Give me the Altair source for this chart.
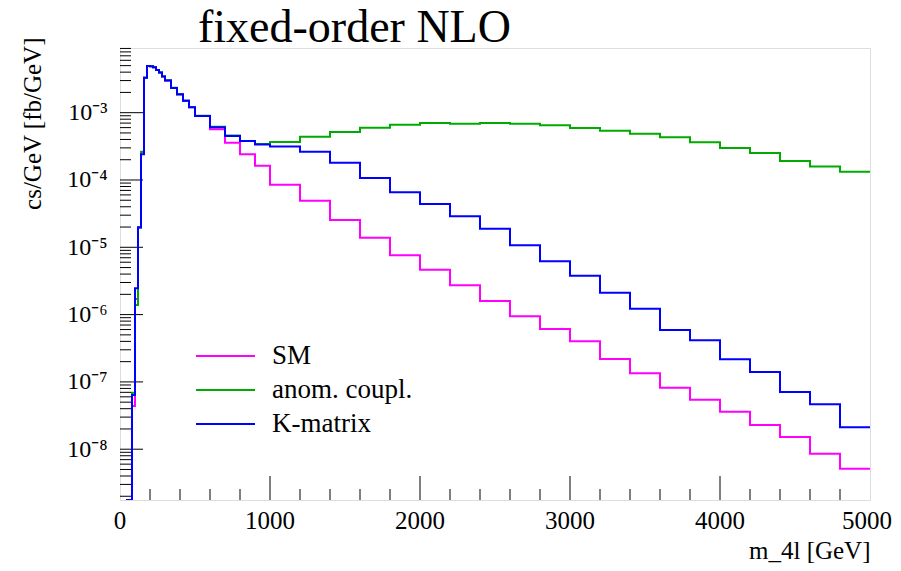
import altair as alt
import pandas as pd

# bin edges of the m_4l histograms [GeV]
edges = [40, 60, 80, 100, 120, 140, 160, 180, 200, 220, 240, 260, 280, 300,
         340, 380, 420, 460, 500, 600, 700, 800, 900, 1000,
         1200, 1400, 1600, 1800, 2000, 2200, 2400, 2600, 2800, 3000,
         3200, 3400, 3600, 3800, 4000, 4200, 4400, 4600, 4800, 5000]

ZERO = 1e-12  # empty bins (drawn at the floor)

sm = [ZERO, ZERO, 4.38e-8, 1.71e-6, 2.0e-5, 2.63e-4, 3.31e-3, 4.94e-3, 4.90e-3,
      4.73e-3, 4.31e-3, 3.96e-3, 3.45e-3, 3.01e-3, 2.33e-3, 1.88e-3, 1.51e-3,
      1.20e-3, 8.93e-4, 5.67e-4, 3.58e-4, 2.41e-4, 1.63e-4, 8.51e-5, 4.93e-5,
      2.54e-5, 1.39e-5, 7.61e-6, 4.65e-6, 2.73e-6, 1.59e-6, 9.43e-7, 6.11e-7,
      4.01e-7, 2.19e-7, 1.34e-7, 8.20e-8, 5.44e-8, 3.61e-8, 2.29e-8, 1.52e-8,
      8.57e-9, 5.13e-9]

anom = [ZERO, ZERO, 6.9e-8, 1.39e-6, 1.96e-5, 2.61e-4, 3.31e-3, 4.94e-3, 4.90e-3,
        4.73e-3, 4.31e-3, 3.96e-3, 3.48e-3, 3.03e-3, 2.35e-3, 1.86e-3, 1.51e-3,
        1.21e-3, 9.0e-4, 6.19e-4, 4.58e-4, 3.80e-4, 3.43e-4, 3.67e-4, 4.40e-4,
        5.17e-4, 5.98e-4, 6.64e-4, 7.03e-4, 6.87e-4, 7.03e-4, 6.87e-4, 6.50e-4,
        5.93e-4, 5.41e-4, 4.88e-4, 4.31e-4, 3.63e-4, 2.99e-4, 2.52e-4, 1.91e-4,
        1.58e-4, 1.32e-4]

kmat = [ZERO, ZERO, 6.4e-8, 2.46e-6, 1.96e-5, 2.41e-4, 3.31e-3, 4.94e-3, 4.90e-3,
        4.73e-3, 4.31e-3, 3.96e-3, 3.45e-3, 3.01e-3, 2.33e-3, 1.88e-3, 1.51e-3,
        1.20e-3, 8.93e-4, 6.07e-4, 4.51e-4, 3.80e-4, 3.37e-4, 3.15e-4, 2.63e-4,
        1.81e-4, 1.07e-4, 6.57e-5, 4.40e-5, 2.89e-5, 1.89e-5, 1.07e-5, 6.22e-6,
        3.78e-6, 2.12e-6, 1.22e-6, 5.90e-7, 4.15e-7, 2.17e-7, 1.40e-7, 7.08e-8,
        4.65e-8, 2.12e-8]

series_names = ["SM", "anom. coupl.", "K-matrix"]
series_colors = ["#ff00ff", "#00aa00", "#0000ff"]

title_text = ["fixed-order NLO"]
x_labels = [0, 1000, 2000, 3000, 4000, 5000]
x_minor = list(range(200, 5000, 200))
y_major = [1e-8, 1e-7, 1e-6, 1e-5, 1e-4, 1e-3]
Y_MIN, Y_MAX = 1.76e-9, 9.14e-3
y_minor = [k * d for d in [1e-9] + y_major for k in range(2, 10) if Y_MIN <= k * d <= Y_MAX]

rows = []
for name, vals in zip(series_names, [sm, anom, kmat]):
    for x, y in zip(edges, vals + [vals[-1]]):
        rows.append({"m4l": x, "cs": y, "series": name})
df = pd.DataFrame(rows)

W, H = 750, 452
FONT = "Liberation Serif"

xscale = alt.Scale(domain=[0, 5000], nice=False, zero=False)
yscale = alt.Scale(type="log", domain=[Y_MIN, Y_MAX], nice=False, clamp=True)

sup = "['\u2070','\u00b9','\u00b2','\u00b3','\u2074','\u2075','\u2076','\u2077','\u2078','\u2079']"
ylabel_expr = "'10\u207b' + " + sup + "[round(-log(datum.value)/LN10)]"

color = alt.Color(
    "series:N",
    scale=alt.Scale(domain=series_names, range=series_colors),
    legend=alt.Legend(
        title=None, orient="none", legendX=75, legendY=291,
        symbolType="stroke", symbolSize=3481, symbolStrokeWidth=2,
        labelFont=FONT, labelFontSize=27, labelColor="black",
        labelOffset=16, clipHeight=34, rowPadding=0, padding=0,
    ),
)

xenc = alt.X(
    "m4l:Q", scale=xscale,
    axis=alt.Axis(
        values=x_labels, ticks=False, domain=False, grid=False, labels=False,
        title="m_4l [GeV]", titleFont=FONT, titleFontSize=25, titleFontWeight="normal",
        titleColor="black", titleAnchor="end", titleAlign="right", titleX=W,
        titleY=58, titleBaseline="alphabetic",
    ),
)
yenc = alt.Y(
    "cs:Q", scale=yscale,
    axis=alt.Axis(
        values=y_major, ticks=False, domain=False, grid=False,
        labelExpr=ylabel_expr, labelFont=FONT, labelFontSize=24, labelColor="black",
        labelPadding=13,
        title="cs/GeV [fb/GeV]", titleFont=FONT, titleFontSize=25,
        titleFontWeight="normal", titleColor="black", titleAngle=270,
        titleAlign="right", titleBaseline="alphabetic", titleX=-80, titleY=-11,
    ),
)

layers = []
for name in series_names:
    layers.append(
        alt.Chart(df).transform_filter(alt.datum.series == name)
        .mark_line(interpolate="step-after", strokeWidth=2, clip=True)
        .encode(x=xenc, y=yenc, color=color)
    )

ymaj_rule = alt.Chart(pd.DataFrame({"cs": y_major})).mark_rule(color="black", strokeWidth=1).encode(
    y=alt.Y("cs:Q", scale=yscale), x=alt.value(0), x2=alt.value(23))
ymin_rule = alt.Chart(pd.DataFrame({"cs": y_minor})).mark_rule(color="black", strokeWidth=1).encode(
    y=alt.Y("cs:Q", scale=yscale), x=alt.value(0), x2=alt.value(11))
xmaj_rule = alt.Chart(pd.DataFrame({"m4l": x_labels[1:-1]})).mark_rule(color="black", strokeWidth=1).encode(
    x=alt.X("m4l:Q", scale=xscale), y=alt.value(H - 24), y2=alt.value(H))
xmin_rule = alt.Chart(pd.DataFrame({"m4l": [v for v in x_minor if v % 1000]})).mark_rule(color="black", strokeWidth=1).encode(
    x=alt.X("m4l:Q", scale=xscale), y=alt.value(H - 11), y2=alt.value(H))

# x tick labels (the last one pulled in a few pixels so it is not cut by the page edge)
xlab_df = pd.DataFrame({"m4l": x_labels, "lab": [str(v) for v in x_labels]})
xlab_mid = alt.Chart(xlab_df[xlab_df.m4l < 5000]).mark_text(
    font=FONT, fontSize=25, align="center", baseline="top", color="black", clip=False
).encode(x=alt.X("m4l:Q", scale=xscale), text="lab:N", y=alt.value(H + 9))
xlab_end = alt.Chart(xlab_df[xlab_df.m4l == 5000]).mark_text(
    font=FONT, fontSize=25, align="right", baseline="top", color="black", clip=False, dx=22
).encode(x=alt.X("m4l:Q", scale=xscale), text="lab:N", y=alt.value(H + 9))

title_mark = alt.Chart(pd.DataFrame({"t": title_text})).mark_text(
    font=FONT, fontSize=46, align="left", baseline="alphabetic", color="black", clip=False
).encode(text="t:N", x=alt.value(78), y=alt.value(-6))

chart = alt.layer(ymaj_rule, ymin_rule, xmaj_rule, xmin_rule, *layers,
                  xlab_mid, xlab_end, title_mark).properties(
    width=W, height=H,
    autosize=alt.AutoSizeParams(type="none"),
    padding={"left": 112, "top": 40, "right": 23, "bottom": 63},
).configure_view(stroke="black", strokeWidth=1).configure(background="white")

chart.save("out.html", embed_options={"renderer": "svg", "actions": False})
